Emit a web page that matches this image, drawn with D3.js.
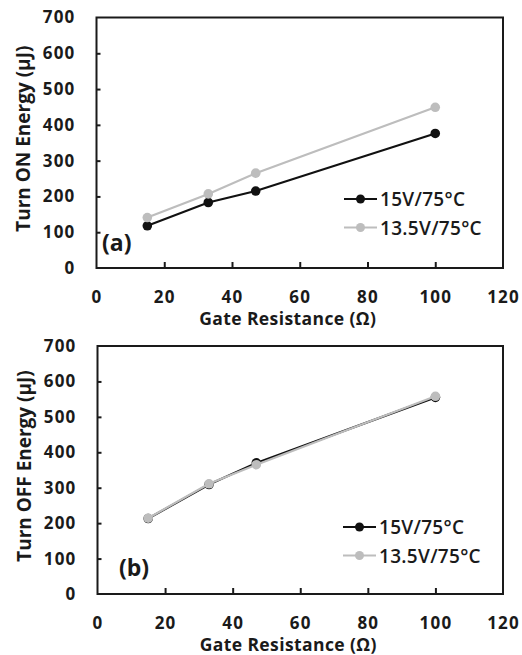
<!DOCTYPE html>
<html>
<head>
<meta charset="utf-8">
<script src="https://cdn.jsdelivr.net/npm/d3@7"></script>
<style>
  html, body { margin: 0; padding: 0; background: #fff; }
  svg { display: block; }
  text { font-family: "Open Sans", "Noto Sans", sans-serif; fill: #1a1a1a; }
</style>
</head>
<body>
<svg id="chart" width="522" height="655"></svg>
<script>
// ---- data ----
const resistance = [15, 33, 47, 100];
const onEnergy15V = [118, 183, 215, 376];
const onEnergy135V = [141, 207, 265, 449];
const offEnergy15V = [213, 309, 370, 555];
const offEnergy135V = [214, 311, 365, 558];
const seriesNames = ["15V/75°C", "13.5V/75°C"];
const xTickValues = [0, 20, 40, 60, 80, 100, 120];
const yTickValues = [0, 100, 200, 300, 400, 500, 600, 700];
const xTitle = "Gate Resistance (Ω)";
const yTitleOn = "Turn ON Energy (μJ)";
const yTitleOff = "Turn OFF Energy (μJ)";

const colors = ["#111111", "#bdbdbd"];
const svg = d3.select("#chart");

function panel(cfg) {
  const { left, right, top, bottom, series, yTitle, tag, tagPos, legendPos } = cfg;
  const x = d3.scaleLinear().domain([0, 120]).range([left, right]);
  const y = d3.scaleLinear().domain([0, 700]).range([bottom, top]);
  const g = svg.append("g");

  // x axis
  const xa = g.append("g").attr("transform", `translate(0,${bottom})`)
    .call(d3.axisBottom(x).tickValues(xTickValues).tickSizeInner(-6).tickSizeOuter(0).tickPadding(24));
  xa.select(".domain").remove();
  xa.selectAll(".tick line").attr("stroke", "#1a1a1a").attr("stroke-width", 2)
    .filter(d => d === 0 || d === 120).remove();
  xa.selectAll(".tick text").attr("font-size", 17).attr("font-weight", 700)
    .attr("letter-spacing", 1.2).attr("fill", "#1a1a1a").attr("dy", "0.66em");

  // y axis
  const ya = g.append("g").attr("transform", `translate(${left},0)`)
    .call(d3.axisLeft(y).tickValues(yTickValues).tickSizeInner(-4).tickSizeOuter(0).tickPadding(21));
  ya.select(".domain").remove();
  ya.selectAll(".tick line").attr("stroke", "#1a1a1a").attr("stroke-width", 2)
    .filter(d => d === 0 || d === 700).remove();
  ya.selectAll(".tick text").attr("font-size", 17).attr("font-weight", 700)
    .attr("letter-spacing", 1.2).attr("fill", "#1a1a1a");

  // frame
  g.append("rect").attr("x", left).attr("y", top)
    .attr("width", right - left).attr("height", bottom - top)
    .attr("fill", "none").attr("stroke", "#1a1a1a").attr("stroke-width", 2);

  // titles
  g.append("text").attr("x", (left + right) / 2 - 12).attr("y", bottom + 57)
    .attr("text-anchor", "middle").attr("font-size", 17.5).attr("font-weight", 700)
    .attr("letter-spacing", 0.4)
    .text(xTitle);
  g.append("text")
    .attr("transform", `translate(${left - 67},${(top + bottom) / 2 - 4}) rotate(-90)`)
    .attr("text-anchor", "middle").attr("font-size", 19).attr("font-weight", 700)
    .text(yTitle);

  // series
  const line = d3.line().x(d => x(d[0])).y(d => y(d[1]));
  series.forEach((vals, i) => {
    const pts = resistance.map((r, k) => [r, vals[k]]);
    g.append("path").datum(pts).attr("d", line)
      .attr("fill", "none").attr("stroke", colors[i]).attr("stroke-width", 2.2);
    g.selectAll(null).data(pts).enter().append("circle")
      .attr("cx", d => x(d[0])).attr("cy", d => y(d[1])).attr("r", 4.8)
      .attr("fill", colors[i]);
  });

  // legend
  seriesNames.forEach((name, i) => {
    const ly = legendPos[1] + i * 28.5;
    g.append("line").attr("x1", legendPos[0]).attr("x2", legendPos[0] + 33)
      .attr("y1", ly).attr("y2", ly).attr("stroke", colors[i]).attr("stroke-width", 2.2);
    g.append("circle").attr("cx", legendPos[0] + 16.5).attr("cy", ly).attr("r", 4.5).attr("fill", colors[i]);
    g.append("text").attr("x", legendPos[0] + 36).attr("y", ly + 7)
      .attr("font-size", 19).attr("font-weight", 600).attr("letter-spacing", 0.3).text(name);
  });

  // panel tag
  g.append("text").attr("x", tagPos[0]).attr("y", tagPos[1])
    .attr("font-size", 23).attr("font-weight", 700).text(tag);
}

panel({ left: 96.5, right: 503, top: 17.5, bottom: 268,
  series: [onEnergy15V, onEnergy135V], yTitle: yTitleOn, tag: "(a)",
  tagPos: [102, 251], legendPos: [344, 199] });

panel({ left: 97.5, right: 503, top: 346, bottom: 594,
  series: [offEnergy15V, offEnergy135V], yTitle: yTitleOff, tag: "(b)",
  tagPos: [119, 576], legendPos: [343, 527] });
</script>
</body>
</html>
